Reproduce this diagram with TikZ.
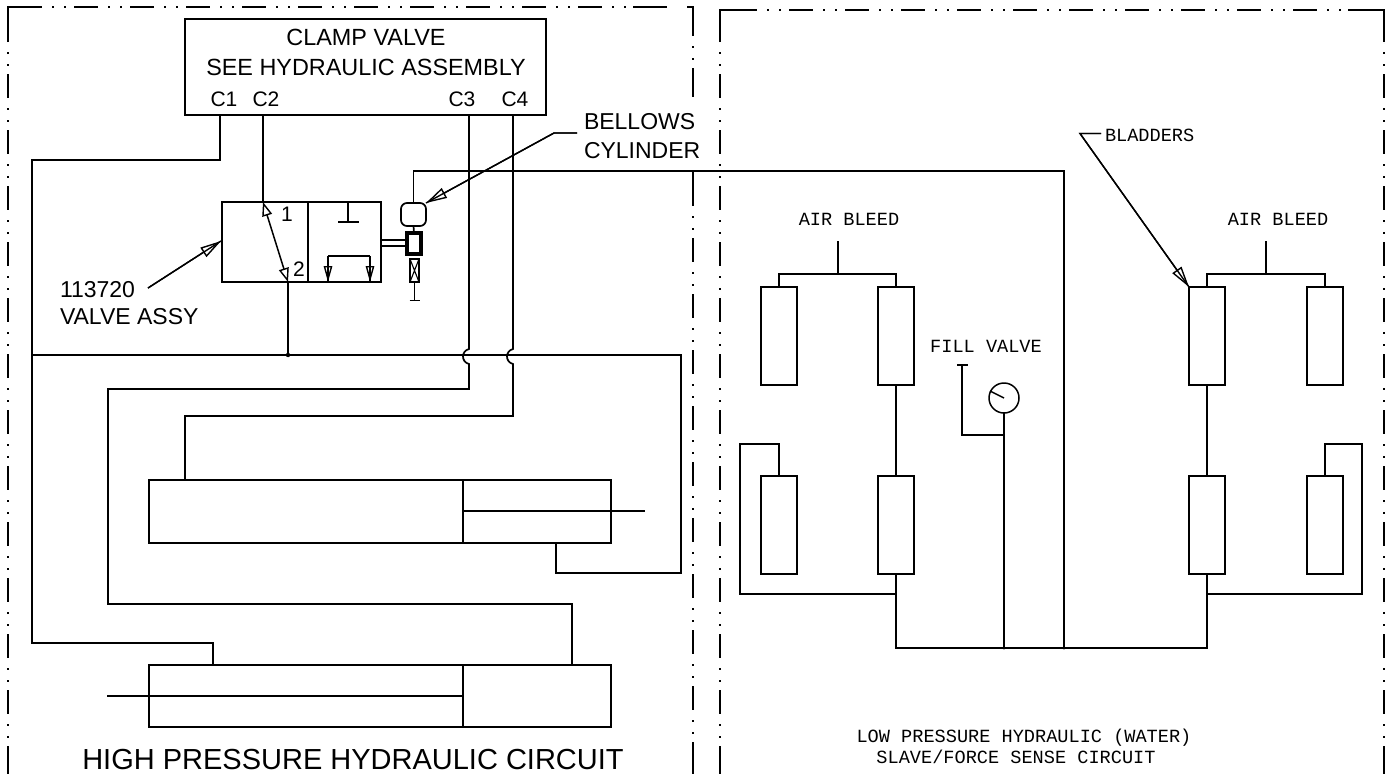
\documentclass[tikz,border=0pt]{standalone}
\usepackage{fontspec}
\setmainfont{Liberation Sans}
\newfontfamily\cadfont{Liberation Mono}
\usetikzlibrary{arrows.meta}
\tikzset{
  wire/.style={line width=1.7pt,line join=miter,line cap=butt},
  box/.style={draw,line width=1.7pt,rectangle,inner sep=0pt,outer sep=0pt},
  panel/.style={line width=1.7pt},
  phantomline/.style={line width=1.7pt,dash pattern=on 24pt off 10pt on 1.8pt off 10.2pt on 1.8pt off 8.2pt,dash phase=24pt},
  lab/.style={inner sep=0pt,outer sep=0pt,font=\fontsize{23}{25}\selectfont},
  cad/.style={inner sep=0pt,outer sep=0pt,font=\cadfont\fontsize{18.6}{20}\selectfont},
  leader/.style={wire,line width=1.4pt,-{Triangle[open,length=21pt,width=11pt,line width=1.4pt]},postaction={draw,arrows=-}},
  smallhead/.style={wire,line width=1.4pt,-{Triangle[open,length=16pt,width=8.5pt,line width=1.4pt]},postaction={draw,arrows=-}},
  twohead/.style={wire,line width=1.5pt,{Triangle[open,length=14pt,width=10pt,line width=1.4pt]}-{Triangle[open,length=14pt,width=10pt,line width=1.4pt]}},
}
\begin{document}
\begin{tikzpicture}[x=1pt,y=-1pt]
\useasboundingbox (0,0) rectangle (1388,774);
% panel borders
\draw[panel] (8,42)--(8,7)--(42,7);
\draw[phantomline] (42,7)--(633,7);
\draw[panel] (633,7)--(667,7);
\draw[panel] (687,7)--(693,7)--(693,36);
\draw[phantomline] (693,36)--(693,68);
\draw[panel] (693,68)--(693,97);
\draw[panel] (693,171)--(693,206);
\draw[phantomline] (693,206)--(693,742);
\draw[panel] (693,742)--(693,774);
\draw[phantomline] (8,42)--(8,746);
\draw[panel] (8,746)--(8,774);
\draw[panel] (720,42)--(720,10)--(757,10);
\draw[phantomline] (720,42)--(720,746);
\draw[panel] (720,746)--(720,774);
\draw[phantomline] (757,10)--(1348,10);
\draw[panel] (1348,10)--(1384,10)--(1384,42);
\draw[phantomline] (1384,42)--(1384,746);
\draw[panel] (1384,746)--(1384,774);

% clamp valve
\node[box,minimum width=361pt,minimum height=96pt] (clamp) at (365.5,67) {};
\node[lab,font=\fontsize{23.4}{25}\selectfont] (clampa) at (366,37) {CLAMP VALVE};
\node[lab,font=\fontsize{23.4}{25}\selectfont] (clampb) at (366,67) {SEE HYDRAULIC ASSEMBLY};
\node[lab,font=\fontsize{21}{23}\selectfont] (lc1) at (224,99) {C1};
\node[lab,font=\fontsize{21}{23}\selectfont] (lc2) at (266,99) {C2};
\node[lab,font=\fontsize{21}{23}\selectfont] (lc3) at (462,99) {C3};
\node[lab,font=\fontsize{21}{23}\selectfont] (lc4) at (515,99) {C4};
\coordinate (c1) at (220,115);
\coordinate (c2) at (263,115);
\coordinate (c3) at (469,115);
\coordinate (c4) at (513,115);

% valve body
\node[box,minimum width=159pt,minimum height=80pt] (valve) at (301.5,242) {};
\coordinate (divtop) at (308,202);
\coordinate (divbot) at (308,282);
\draw[wire] (divtop)--(divbot);
\coordinate (p1) at (263,202);
\coordinate (p2) at (288,282);
\draw[twohead] (p1)--(p2);
\node[lab,font=\fontsize{21}{23}\selectfont] (n1) at (287,214) {1};
\node[lab,font=\fontsize{21}{23}\selectfont] (n2) at (299,269) {2};
% right chamber
\coordinate (tt) at (348,202);
\coordinate (tb) at (348,222);
\draw[wire] (tt)--(tb) (338,222)--(359,222);
\coordinate (fa) at (328,282);
\coordinate (fb) at (370,282);
\draw[wire,line width=1.4pt] (328,256)--(370,256);
\draw[smallhead] (328,256)--(fa);
\draw[smallhead] (370,256)--(fb);

% bellows cylinder
\node[box,rounded corners=6pt,minimum width=25pt,minimum height=23pt] (bellows) at (413.5,214.5) {};
\node[box,line width=3.6pt,minimum width=14pt,minimum height=21.5pt] (cyl) at (414,243.5) {};
\node[box,line width=1.4pt,minimum width=9pt,minimum height=23pt] (xbox) at (414.5,270.5) {};
\draw[wire,line width=1.1pt] (xbox.north west)--(xbox.south east) (xbox.north east)--(xbox.south west);
\draw[wire] (bellows.south)--(cyl.north);
\coordinate (xtee) at (414.5,300.5);
\draw[wire] (xbox.south)--(xtee) (409.5,300.5)--(420,300.5);
\draw[wire] (381,240)--(405,240) (381,246)--(405,246);

% labels + leaders
\node[lab,anchor=west] (bel1) at (584,122) {BELLOWS};
\node[lab,anchor=west] (bel2) at (584,151) {CYLINDER};
\coordinate (belstub) at (577,133);
\draw[leader] (belstub)--(554,133)--(bellows.north east);
\node[lab,anchor=west] (va1) at (60,290) {113720};
\node[lab,anchor=west] (va2) at (60,317) {VALVE ASSY};
\coordinate (vastart) at (148,288);
\coordinate (vatip) at (221,241);
\draw[leader] (vastart)--(vatip);

% hydraulic wiring, left
\node[box,minimum width=462pt,minimum height=63pt] (cylup) at (380,511.5) {};
\node[box,minimum width=462pt,minimum height=62pt] (cyllo) at (380,696) {};
\draw[wire] (463,480)--(463,543) (463,511)--(645,511);
\draw[wire] (463,665)--(463,727) (463,696)--(107,696);
\coordinate (cyltop1) at (213,665);
\coordinate (cyltop2) at (572,665);
\coordinate (cyltop3) at (185,480);
\coordinate (cylbot) at (556,543);
\draw[wire] (c1)--(220,160)--(32,160)--(32,643)--(213,643)--(cyltop1);
\draw[wire] (c2)--(p1);
\draw[wire] (p2)--(288,355);
\fill (288,355) circle (2.2pt);
\draw[wire] (32,355)--(681,355)--(681,573)--(556,573)--(cylbot);
\draw[wire] (c3)--(469,349) .. controls (461,351) and (461,362) .. (469,364)--(469,389)--(108,389)--(108,604)--(572,604)--(cyltop2);
\draw[wire] (c4)--(513,349) .. controls (505,351) and (505,362) .. (513,364)--(513,416)--(185,416)--(cyltop3);
\draw[wire] (bellows.north)--(413.5,171)--(1064,171)--(1064,648);

% low-pressure side
\node[box,minimum width=36pt,minimum height=98pt] (b1) at (779,336) {};
\node[box,minimum width=36pt,minimum height=98pt] (b2) at (896,336) {};
\node[box,minimum width=36pt,minimum height=98pt] (b3) at (779,525) {};
\node[box,minimum width=36pt,minimum height=98pt] (b4) at (896,525) {};
\node[box,minimum width=36pt,minimum height=98pt] (b5) at (1207,336) {};
\node[box,minimum width=36pt,minimum height=98pt] (b6) at (1325,336) {};
\node[box,minimum width=36pt,minimum height=98pt] (b7) at (1207,525) {};
\node[box,minimum width=36pt,minimum height=98pt] (b8) at (1325,525) {};
\node[cad] (air1) at (849,219) {AIR BLEED};
\node[cad] (air2) at (1278,219) {AIR BLEED};
\coordinate (airs1) at (838,241);
\coordinate (airs2) at (1266,241);
\draw[wire] (b1.north)--(779,274)--(896,274)--(b2.north) (airs1)--(838,274);
\draw[wire] (b5.north)--(1207,274)--(1325,274)--(b6.north) (airs2)--(1266,274);
\draw[wire] (b2.south)--(b4.north);
\draw[wire] (b5.south)--(b7.north);
\draw[wire] (b3.north)--(779,444)--(740,444)--(740,594)--(896,594);
\draw[wire] (b8.north)--(1325,444)--(1362,444)--(1362,594)--(1207,594);
\draw[wire] (b4.south)--(896,648)--(1207,648)--(b7.south);
\fill (1004,648) circle (1.6pt) (1064,648) circle (1.6pt);
% fill valve
\node[cad] (fill) at (986,346) {FILL VALVE};
\node[draw,circle,line width=1.5pt,minimum size=30pt,inner sep=0pt,outer sep=0pt] (gauge) at (1004,398) {};
\draw[wire,line width=1.4pt] (gauge.center)--(990,391);
\coordinate (gb) at (1004,648);
\draw[wire] (gauge.south)--(gb);
\coordinate (teev) at (962,365);
\draw[wire] (957,365)--(968,365) (teev)--(962,435)--(1004,435);
% bladders
\node[cad,anchor=west] (bl) at (1105,135) {BLADDERS};
\coordinate (blstub) at (1101,133.5);
\draw[leader] (blstub)--(1080,133.5)--(b5.north west);
% titles
\node[lab,font=\fontsize{29}{31}\selectfont] (hp) at (353,760) {HIGH PRESSURE HYDRAULIC CIRCUIT};
\node[cad] (lp1) at (1024,738) {LOW PRESSURE HYDRAULIC (WATER)};
\node[cad] (lp2) at (1016,757) {SLAVE/FORCE SENSE CIRCUIT};
\end{tikzpicture}
\end{document}
